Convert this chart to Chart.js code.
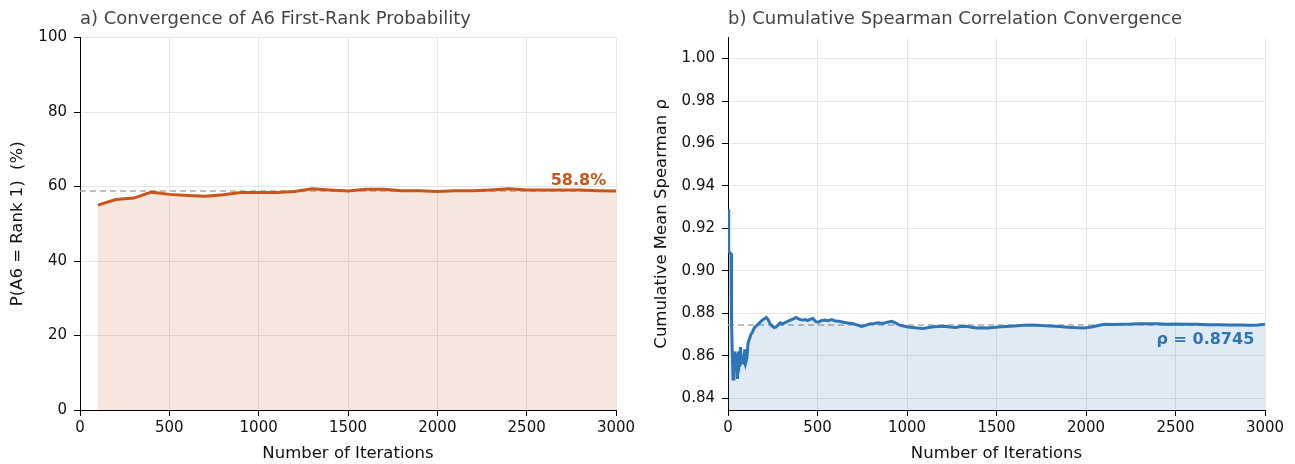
<!DOCTYPE html>
<html>
<head>
<meta charset="utf-8">
<script src="https://cdn.jsdelivr.net/npm/chart.js@4/dist/chart.umd.min.js"></script>
<style>
  body { margin: 0; background: #fff; }
  #wrap { position: relative; width: 1295px; height: 464px; }
  canvas { position: absolute; top: 0; }
</style>
</head>
<body>
<div id="wrap">
  <canvas id="chartA" width="647" height="464" style="left:0"></canvas>
  <canvas id="chartB" width="648" height="464" style="left:647px"></canvas>
</div>
<script>
// 面板 a：A6 排第一的概率（%）
const probIters = [100, 200, 300, 400, 500, 600, 700, 800, 900, 1000,
    1100, 1200, 1300, 1400, 1500, 1600, 1700, 1800, 1900, 2000,
    2100, 2200, 2300, 2400, 2500, 2600, 2700, 2800, 2900, 3000];
const probValues = [55.0, 56.5, 56.9, 58.5, 57.9, 57.6, 57.4, 57.8, 58.4, 58.4,
    58.4, 58.7, 59.4, 59.1, 58.8, 59.3, 59.3, 58.9, 58.9, 58.7,
    58.9, 58.9, 59.1, 59.4, 59.1, 59.1, 59.1, 59.1, 58.9, 58.8];
const probFinal = 58.8;

// 面板 b：累计平均 Spearman ρ
const rhoIters = [1, 3, 5, 17, 20, 24, 28, 33, 38, 43, 48, 53, 58, 64, 70, 76, 82, 88, 94, 100,
    106, 112, 120, 128, 136, 146, 158, 170, 182, 194, 205, 214, 224, 236, 248, 258, 268, 280, 292, 304,
    316, 330, 342, 355, 368, 380, 392, 404, 416, 430, 445, 460, 475, 490, 505, 520, 540, 560, 580, 600,
    620, 645, 670, 695, 720, 745, 765, 790, 815, 840, 865, 890, 915, 935, 955, 980, 1005, 1030, 1060, 1090,
    1120, 1150, 1180, 1210, 1240, 1270, 1300, 1330, 1360, 1390, 1420, 1450, 1480, 1510, 1550, 1600, 1650, 1700, 1750, 1800,
    1850, 1900, 1950, 1990, 2030, 2070, 2100, 2150, 2200, 2250, 2300, 2350, 2400, 2450, 2500, 2560, 2620, 2680, 2740, 2800,
    2860, 2920, 2960, 3000];
const rhoValues = [0.929, 0.929, 0.909, 0.908, 0.875, 0.862, 0.849, 0.850, 0.862, 0.855, 0.861, 0.849, 0.862, 0.858, 0.864, 0.857, 0.858, 0.857, 0.863, 0.857,
    0.859, 0.866, 0.868, 0.870, 0.871, 0.873, 0.874, 0.875, 0.876, 0.877, 0.8775, 0.878, 0.877, 0.875, 0.8738, 0.8732, 0.8735, 0.8745, 0.8755, 0.875,
    0.8755, 0.876, 0.8765, 0.877, 0.8775, 0.878, 0.8775, 0.877, 0.8768, 0.877, 0.8765, 0.8772, 0.8775, 0.876, 0.8758, 0.8765, 0.8768, 0.8765, 0.877, 0.8763,
    0.8762, 0.8758, 0.8754, 0.8752, 0.8745, 0.8738, 0.8742, 0.875, 0.8752, 0.8755, 0.8752, 0.8758, 0.8762, 0.8755, 0.8745, 0.874, 0.8735, 0.8733, 0.873, 0.8728,
    0.8733, 0.8736, 0.8738, 0.8739, 0.8735, 0.8733, 0.8737, 0.8739, 0.8734, 0.8731, 0.8732, 0.8731, 0.8733, 0.8735, 0.8738, 0.874, 0.8743, 0.8745, 0.8742, 0.874,
    0.8737, 0.8734, 0.8732, 0.8731, 0.8735, 0.8742, 0.8748, 0.8747, 0.8748, 0.8749, 0.8751, 0.875, 0.875, 0.8748, 0.8749, 0.8748, 0.8748, 0.8746, 0.8746, 0.8745,
    0.8744, 0.8743, 0.8745, 0.8748];
const rhoFinal = 0.8745;

// 刻度
const iterTicks = [0, 500, 1000, 1500, 2000, 2500, 3000];
const probTicks = [0, 20, 40, 60, 80, 100];
const rhoTicks = [0.84, 0.86, 0.88, 0.90, 0.92, 0.94, 0.96, 0.98, 1.00];

const ORANGE = '#c8561a';
const BLUE = '#2e75b6';
const GRID = '#e6e6e6';

Chart.defaults.font.family = 'DejaVu Sans';
Chart.defaults.font.size = 15;
Chart.defaults.color = '#111';

function toPoints(xs, ys) {
    return xs.map((x, i) => ({ x: x, y: ys[i] }));
}

// 文字标注插件
function labelPlugin(text, xVal, yVal, color) {
    return {
        id: 'valueLabel',
        afterDatasetsDraw(chart) {
            const ctx = chart.ctx;
            const px = chart.scales.x.getPixelForValue(xVal);
            const py = chart.scales.y.getPixelForValue(yVal);
            ctx.save();
            ctx.font = 'bold 16px "DejaVu Sans"';
            ctx.fillStyle = color;
            ctx.textAlign = 'right';
            ctx.textBaseline = 'middle';
            ctx.fillText(text, px, py);
            ctx.restore();
        }
    };
}

function makeScales(yMin, yMax, yTicks, yTitle, yTitlePad, yWidth, yFmt) {
    return {
        x: {
            type: 'linear',
            min: 0,
            max: 3000,
            afterBuildTicks: s => { s.ticks = iterTicks.map(v => ({ value: v })); },
            afterFit: s => { s.height = 54; },
            ticks: { padding: 3, color: '#111', callback: v => String(v) },
            grid: { color: GRID, tickColor: '#000', tickLength: 6 },
            border: { display: true, color: '#000', width: 1 },
            title: { display: true, text: 'Number of Iterations', color: '#111', font: { size: 16.5 }, padding: { top: 0, bottom: 0 } }
        },
        y: {
            type: 'linear',
            min: yMin,
            max: yMax,
            afterBuildTicks: s => { s.ticks = yTicks.map(v => ({ value: v })); },
            afterFit: s => { s.width = yWidth; },
            ticks: { padding: 7, color: '#111', callback: yFmt },
            grid: { color: GRID, tickColor: '#000', tickLength: 6 },
            border: { display: true, color: '#000', width: 1 },
            title: { display: true, text: yTitle, color: '#111', font: { size: 16.5 }, padding: { top: yTitlePad, bottom: 0 } }
        }
    };
}

function makeTitle(text) {
    return {
        display: true,
        text: text,
        align: 'start',
        fullSize: false,
        color: '#444',
        font: { size: 18, weight: 'normal' },
        padding: { top: 9, bottom: 7 }
    };
}

// 面板 a
new Chart(document.getElementById('chartA').getContext('2d'), {
    type: 'line',
    data: {
        datasets: [{
            data: toPoints(probIters, probValues),
            borderColor: ORANGE,
            backgroundColor: 'rgba(200, 86, 26, 0.15)',
            borderWidth: 3,
            pointRadius: 0,
            fill: 'origin',
            tension: 0
        }, {
            data: toPoints([0, 3000], [probFinal, probFinal]),
            borderColor: '#aaaaaa',
            borderWidth: 1.5,
            borderDash: [6, 4],
            pointRadius: 0,
            fill: false
        }]
    },
    options: {
        responsive: false,
        animation: false,
        layout: { padding: { right: 31 } },
        plugins: {
            legend: { display: false },
            tooltip: { enabled: false },
            title: makeTitle('a) Convergence of A6 First-Rank Probability')
        },
        scales: makeScales(0, 100, probTicks, 'P(A6 = Rank 1)  (%)', 8, 80, v => String(v))
    },
    plugins: [labelPlugin(probFinal.toFixed(1) + '%', 2945, 61.6, ORANGE)]
});

// 面板 b
new Chart(document.getElementById('chartB').getContext('2d'), {
    type: 'line',
    data: {
        datasets: [{
            data: toPoints(rhoIters, rhoValues),
            borderColor: BLUE,
            backgroundColor: 'rgba(46, 117, 182, 0.15)',
            borderWidth: 3,
            pointRadius: 0,
            fill: 'start',
            tension: 0
        }, {
            data: toPoints([0, 3000], [rhoFinal, rhoFinal]),
            borderColor: '#aaaaaa',
            borderWidth: 1.5,
            borderDash: [6, 4],
            pointRadius: 0,
            fill: false
        }]
    },
    options: {
        responsive: false,
        animation: false,
        layout: { padding: { right: 30 } },
        plugins: {
            legend: { display: false },
            tooltip: { enabled: false },
            title: makeTitle('b) Cumulative Spearman Correlation Convergence')
        },
        scales: makeScales(0.8344, 1.0099, rhoTicks, 'Cumulative Mean Spearman ρ', 5, 81, v => v.toFixed(2))
    },
    plugins: [labelPlugin('ρ = ' + rhoFinal.toFixed(4), 2940, 0.8673, BLUE)]
});
</script>
</body>
</html>
